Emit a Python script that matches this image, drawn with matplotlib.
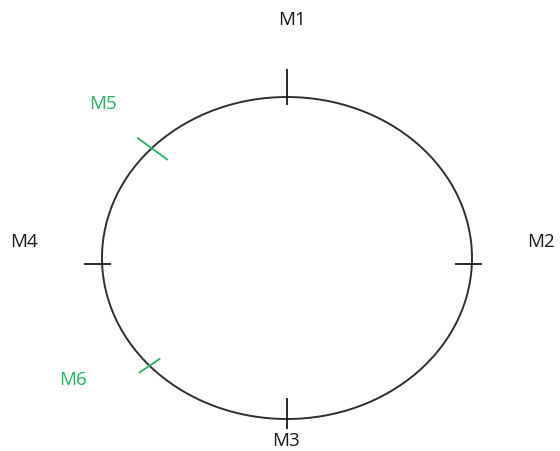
import numpy as np
import matplotlib.pyplot as plt
from matplotlib.patches import Ellipse

plt.rcParams['font.family'] = ['Open Sans', 'DejaVu Sans']

# ellipse (pixel units of the 560x452 canvas)
cx, cy = 287, 259
a, b = 185, 161

# markers on the ellipse
names = ['M1', 'M2', 'M3', 'M4', 'M5', 'M6']
angles = [90, -2, 270, 182, 137, 222]          # parametric angle on the ellipse, degrees
tick_dir = [90, 0, 270, 180, 144, 214]          # outward direction of the tick, degrees
tick_out = [28, 10, 10, 18, 18, 13]             # tick length outside the ellipse
tick_in = [8, 17, 21, 9, 20, 13]                # tick length inside
colors = ['#1a1a1a', '#1a1a1a', '#1a1a1a', '#1a1a1a', '#24b45f', '#24b45f']
label_x = [292, 541, 286, 24, 103, 73]
label_y = [20, 242, 441, 242, 104, 380]

fig = plt.figure(figsize=(5.6, 4.52), dpi=100)
ax = fig.add_axes([0, 0, 1, 1])
ax.set_xlim(0, 560)
ax.set_ylim(452, 0)
ax.axis('off')

ax.add_patch(Ellipse((cx, cy), 2 * a, 2 * b, fill=False, ec='#303030', lw=1.4))

for name, t, d, lo, li, c, lx, ly in zip(names, angles, tick_dir, tick_out, tick_in,
                                         colors, label_x, label_y):
    t = np.radians(t)
    px = cx + a * np.cos(t)
    py = cy - b * np.sin(t)
    # tick direction (y axis points down)
    nx, ny = np.cos(np.radians(d)), -np.sin(np.radians(d))
    ax.plot([px - li * nx, px + lo * nx], [py - li * ny, py + lo * ny],
            color=c, lw=1.3, solid_capstyle='butt')
    ax.text(lx, ly, name, color=c, fontsize=13.5, ha='center', va='center')

fig.savefig('out.png', dpi=100)
